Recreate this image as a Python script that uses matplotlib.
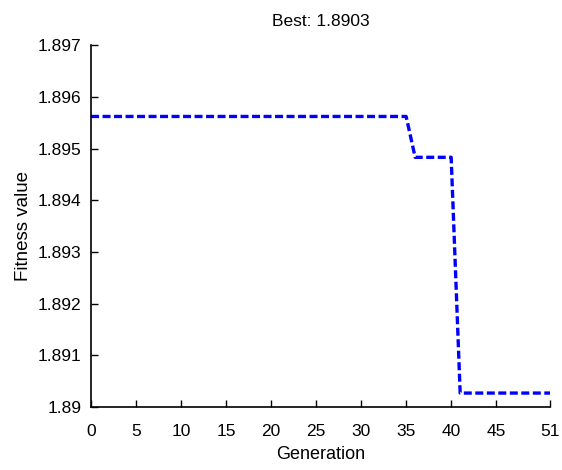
import matplotlib
matplotlib.use('Agg')
import matplotlib.pyplot as plt

# values, one per generation (0..51)
generations = list(range(52))
fitness = [1.89562] * 36 + [1.89483] * 5 + [1.89027] * 11
best = 1.8903

x_ticks = [0, 5, 10, 15, 20, 25, 30, 35, 40, 45, 51]
y_ticks = [1.89, 1.891, 1.892, 1.893, 1.894, 1.895, 1.896, 1.897]
y_tick_labels = ['1.89', '1.891', '1.892', '1.893', '1.894', '1.895', '1.896', '1.897']

plt.rcParams['font.family'] = ['Liberation Sans', 'DejaVu Sans']

fig = plt.figure(figsize=(5.62, 4.70), dpi=100)
ax = fig.add_axes([0.162, 0.134, 0.817, 0.770])

ax.plot(generations, fitness, color='#0000ff', linewidth=2.4, linestyle=(0, (2.4, 1.05)))

ax.set_xlim(0, 51)
ax.set_ylim(1.89, 1.897)
ax.set_xticks(x_ticks)
ax.set_yticks(y_ticks)
ax.set_yticklabels(y_tick_labels)
ax.tick_params(direction='in', length=5, width=1, labelsize=12.5)
ax.tick_params(axis='x', pad=12)
ax.tick_params(axis='y', pad=7)

for side in ['top', 'right']:
    ax.spines[side].set_visible(False)
for side in ['left', 'bottom']:
    ax.spines[side].set_linewidth(1.2)

ax.set_title('Best: %.4f' % best, fontsize=12.5, pad=14)
ax.set_xlabel('Generation', fontsize=13, labelpad=5)
ax.set_ylabel('Fitness value', fontsize=13.5, labelpad=4)

fig.savefig('out.png', dpi=100)
